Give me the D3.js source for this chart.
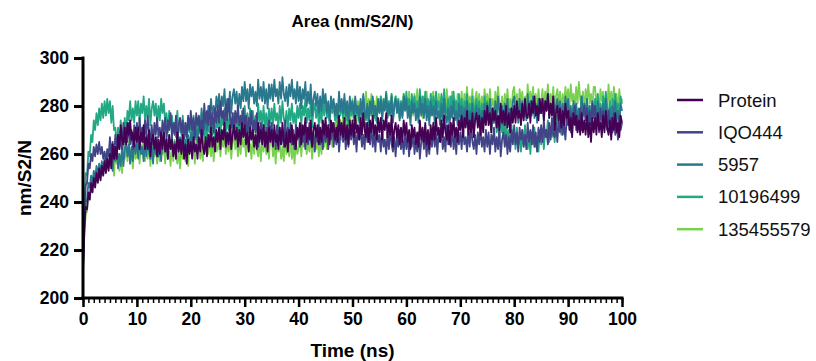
<!DOCTYPE html>
<html>
<head>
<meta charset="utf-8">
<script src="https://cdn.jsdelivr.net/npm/d3@7"></script>
<style>
  body { margin: 0; background: #fff; }
  svg { display: block; font-family: "Liberation Sans", Arial, sans-serif; }
</style>
</head>
<body>
<div id="chart"></div>
<script>
const seriesNames = ['Protein', 'IQO444', '5957', '10196499', '135455579'];
const seriesColors = ['#440154', '#414487', '#2a788e', '#22a884', '#7ad151'];
const timeStep = 0.25; // ns between samples
const yTicks = [200, 220, 240, 260, 280, 300];
const xTicks = [0, 10, 20, 30, 40, 50, 60, 70, 80, 90, 100];

// one row = 5 ns
const protein = [
  210,228,238,237,244,241,248,244,250,246,252,248,254,249,255,251,257,252,258,253,
  260,254,264,258,263,258,268,262,272,266,264,271,264,273,268,274,266,269,263,271,
  265,271,262,269,265,272,262,267,262,270,259,266,268,262,267,259,266,260,269,262,
  269,261,266,258,268,262,266,259,264,258,269,261,266,260,268,258,264,256,266,260,
  265,258,267,261,264,258,267,261,270,263,260,267,259,268,263,271,263,267,261,270,
  265,271,262,270,266,273,263,269,264,272,262,268,272,266,271,263,270,264,273,267,
  272,264,269,261,271,266,270,263,268,262,273,265,270,264,272,263,269,261,271,265,
  270,263,272,265,268,262,271,264,273,266,263,269,261,270,265,272,264,268,262,271,
  267,273,264,272,268,275,265,271,266,274,263,270,273,267,272,264,271,265,274,268,
  275,267,272,264,274,269,273,266,271,265,276,268,273,267,275,266,272,264,274,268,
  274,267,276,269,272,266,275,268,277,270,267,273,265,274,269,276,268,272,266,275,
  269,275,266,274,270,277,267,273,268,276,263,270,273,267,272,264,271,265,274,268,
  273,265,270,262,272,267,271,264,269,263,274,266,271,265,273,264,270,262,272,266,
  273,266,275,268,271,265,274,267,276,269,266,272,264,273,268,275,267,271,265,274,
  270,276,267,275,271,278,268,274,269,277,267,274,277,271,276,268,275,269,278,272,
  280,272,277,269,279,274,278,271,276,270,281,273,278,272,280,271,277,269,279,273,
  280,273,282,275,278,272,281,274,283,276,275,281,273,282,277,284,276,280,274,283,
  277,283,274,282,278,285,275,281,276,284,270,277,280,274,279,271,278,272,281,275,
  278,270,275,267,277,272,276,269,274,268,277,269,274,268,276,267,273,265,275,269,
  275,268,277,270,273,267,276,269,278,271,268,274,266,275,270,277,269,273,267,276,
  273
];

const iqo444 = [
  215,232,247,248,256,254,260,257,263,259,264,260,265,260,263,258,261,257,262,259,
  267,260,265,258,268,264,268,262,267,262,273,265,271,265,273,264,270,262,272,266,
  273,266,275,268,271,265,274,267,276,269,266,272,264,273,268,275,267,271,265,274,
  269,275,266,274,270,277,267,273,268,276,265,272,275,269,274,266,273,267,276,270,
  278,270,275,267,277,272,276,269,274,268,281,273,278,272,280,271,277,269,279,273,
  280,273,282,275,278,272,281,274,283,276,271,277,269,278,273,280,272,276,270,279,
  270,276,267,275,271,278,268,274,269,277,263,270,273,267,272,264,271,265,274,268,
  273,265,270,262,272,267,271,264,269,263,274,266,271,265,273,264,270,262,272,266,
  270,263,272,265,268,262,271,264,273,266,263,269,261,270,265,272,264,268,262,271,
  265,271,262,270,266,273,263,269,264,272,261,268,271,265,270,262,269,263,272,266,
  272,264,269,261,271,266,270,263,268,262,273,265,270,264,272,263,269,261,271,265,
  268,261,270,263,266,260,269,262,271,264,261,267,259,268,263,270,262,266,260,269,
  262,268,259,267,263,270,260,266,261,269,258,265,268,262,267,259,266,260,269,263,
  271,263,268,260,270,265,269,262,267,261,272,264,269,263,271,262,268,260,270,264,
  269,262,271,264,267,261,270,263,272,265,262,268,260,269,264,271,263,267,261,270,
  263,269,260,268,264,271,261,267,262,270,259,266,269,263,268,260,267,261,270,264,
  272,264,269,261,271,266,270,263,268,262,273,265,270,264,272,263,269,261,271,265,
  272,265,274,267,270,264,273,266,275,268,267,273,265,274,269,276,268,272,266,275,
  272,278,269,277,273,280,270,276,271,279,270,277,280,274,279,271,278,272,281,275,
  280,272,277,269,279,274,278,271,276,270,278,270,275,269,277,268,274,266,276,270,
  273
];

const c5957 = [
  212,230,240,241,248,246,251,248,253,250,255,251,256,252,257,253,258,254,259,255,
  256,262,253,261,257,264,254,260,255,263,255,262,265,259,264,256,263,257,266,260,
  265,258,267,260,263,257,266,259,268,261,258,264,256,265,260,267,259,263,257,266,
  269,261,266,258,268,263,267,260,265,259,270,262,267,261,269,260,266,258,268,262,
  269,263,273,266,270,265,275,269,279,273,270,277,270,280,276,283,276,280,275,284,
  279,285,276,284,280,287,277,283,278,286,277,284,287,281,286,278,285,279,288,282,
  290,282,287,279,289,284,288,281,286,280,291,283,288,282,290,281,287,279,289,283,
  289,282,291,284,287,281,290,283,292,285,282,288,280,289,284,291,283,287,281,290,
  282,288,279,287,283,290,280,286,281,289,276,283,286,280,285,277,284,278,287,281,
  285,277,282,274,284,279,283,276,281,275,286,278,283,277,285,276,282,274,284,278,
  282,275,284,277,280,274,283,276,285,278,275,281,273,282,277,284,276,280,274,283,
  277,283,274,282,278,285,275,281,276,284,273,280,283,277,282,274,281,275,284,278,
  283,275,280,272,282,277,281,274,279,273,284,276,281,275,283,274,280,272,282,276,
  280,273,282,275,278,272,281,274,283,276,273,279,271,280,275,282,274,278,272,281,
  274,280,271,279,275,282,272,278,273,281,270,277,280,274,279,271,278,272,281,275,
  281,274,283,276,279,273,282,275,284,277,274,280,272,281,276,283,275,279,273,282,
  284,276,281,273,283,278,282,275,280,274,285,277,282,276,284,275,281,273,283,277,
  277,283,274,282,278,285,275,281,276,284,273,280,283,277,282,274,281,275,284,278,
  283,275,280,272,282,277,281,274,279,273,284,276,281,275,283,274,280,272,282,276,
  280,273,282,275,278,272,281,274,283,276,273,279,271,280,275,282,274,278,272,281,
  278
];

const c10196499 = [
  215,238,252,251,261,259,268,265,274,270,277,272,279,274,281,275,282,276,283,277,
  282,273,280,270,271,263,271,264,274,268,267,275,268,278,274,282,274,279,273,282,
  276,282,273,281,277,284,274,280,275,283,272,279,282,276,281,273,280,274,283,277,
  281,273,277,269,278,273,276,269,273,267,278,269,274,268,276,267,273,265,275,269,
  274,267,276,269,272,266,275,268,277,270,267,273,265,274,269,276,268,272,266,275,
  271,277,268,276,272,279,269,275,270,278,267,274,277,271,276,268,275,269,278,272,
  280,272,277,269,279,274,278,271,276,270,281,273,278,272,280,271,277,269,279,273,
  279,272,281,274,277,271,280,273,282,275,272,278,270,279,274,281,273,277,271,280,
  275,281,272,280,276,283,273,279,274,282,271,278,281,275,280,272,279,273,282,276,
  283,275,280,272,282,277,281,274,279,273,284,276,281,275,283,274,280,272,282,276,
  281,274,283,276,279,273,282,275,284,277,274,280,272,281,276,283,275,279,273,282,
  278,284,275,283,279,286,276,282,277,285,274,281,284,278,283,275,282,276,285,279,
  286,278,283,275,285,280,284,277,282,276,287,279,284,278,286,277,283,275,285,279,
  284,277,286,279,282,276,285,278,287,280,277,283,275,284,279,286,278,282,276,285,
  277,283,274,282,278,285,275,281,276,284,273,280,283,277,282,274,281,275,284,278,
  282,274,278,269,279,273,276,269,273,267,277,269,273,267,274,265,270,262,272,265,
  269,262,271,264,267,261,270,263,272,265,262,268,260,269,264,271,263,267,261,270,
  264,270,262,270,267,274,265,271,267,275,265,272,276,270,276,268,276,270,280,274,
  282,274,279,271,281,276,280,273,278,272,284,276,281,275,283,274,280,272,282,276,
  283,276,285,278,281,275,284,277,286,279,276,282,274,283,278,285,277,281,275,284,
  281
];

const c135455579 = [
  212,226,235,236,243,241,247,244,250,247,252,249,253,250,255,251,256,253,257,254,
  262,254,259,251,261,256,260,253,258,252,266,258,263,257,265,256,262,254,264,258,
  259,265,256,264,260,267,257,263,258,266,255,262,265,259,264,256,263,257,266,260,
  263,256,265,258,261,255,264,257,266,259,256,262,254,263,258,265,257,261,255,264,
  267,259,264,256,266,261,265,258,263,257,269,261,266,260,268,259,265,257,267,261,
  262,268,259,267,263,270,260,266,261,269,258,265,268,262,267,259,266,260,269,263,
  266,259,268,261,264,258,267,260,269,262,259,265,257,266,261,268,260,264,258,267,
  267,259,264,256,266,261,265,258,263,257,268,260,265,259,267,258,264,256,266,260,
  262,268,259,267,263,270,260,266,261,269,258,265,268,262,267,259,266,260,269,263,
  269,262,272,265,269,263,273,267,276,270,267,274,266,276,271,279,271,276,270,280,
  283,275,280,272,282,277,281,274,279,273,286,278,283,277,285,276,282,274,284,278,
  278,284,275,283,279,286,276,282,277,285,274,281,284,278,283,275,282,276,285,279,
  284,277,286,279,282,276,285,278,287,280,277,283,275,284,279,286,278,282,276,285,
  286,278,283,275,285,280,284,277,282,276,287,279,284,278,286,277,283,275,285,279,
  280,286,277,285,281,288,278,284,279,287,276,283,286,280,285,277,284,278,287,281,
  285,278,287,280,283,277,286,279,288,281,278,284,276,285,280,287,279,283,277,286,
  288,280,285,277,287,282,286,279,284,278,289,281,286,280,288,279,285,277,287,281,
  281,287,278,286,282,289,279,285,280,288,277,284,287,281,286,278,285,279,288,282,
  287,280,289,282,285,279,288,281,290,283,280,286,278,287,282,289,281,285,279,288,
  288,280,285,277,287,282,286,279,284,278,289,281,286,280,288,279,285,277,287,281,
  283
];

const seriesValues = [protein, iqo444, c5957, c10196499, c135455579];
seriesValues.forEach((v, i) => { if (v.length !== 401) console.error(seriesNames[i], v.length); });

const width = 816, height = 361;
const margin = { top: 58, right: 194, bottom: 63, left: 83 };
const plotW = width - margin.left - margin.right;
const plotH = height - margin.top - margin.bottom;
const font = '"Liberation Sans", Arial, sans-serif';

const svg = d3.select('#chart')
  .append('svg')
  .attr('width', width)
  .attr('height', height);

const g = svg.append('g')
  .attr('transform', `translate(${margin.left},${margin.top})`);

const x = d3.scaleLinear().domain([0, 100]).range([0, plotW]);
const y = d3.scaleLinear().domain([200, 300]).range([plotH, 0]);

// Title
svg.append('text')
  .attr('x', margin.left + plotW / 2)
  .attr('y', 27)
  .attr('text-anchor', 'middle')
  .style('font-size', '17px')
  .style('font-weight', 'bold')
  .text('Area (nm/S2/N)');

// Series lines, last one at the back
const line = d3.line()
  .x((d, i) => x(i * timeStep))
  .y(d => y(d));

seriesValues.map((v, i) => i).reverse().forEach(i => {
  g.append('path')
    .datum(seriesValues[i])
    .attr('fill', 'none')
    .attr('stroke', seriesColors[i])
    .attr('stroke-width', 1.8)
    .attr('stroke-linejoin', 'round')
    .attr('d', line);
});

// X axis: minor ticks every 1 ns, major every 10
const xAxisG = g.append('g').attr('transform', `translate(0,${plotH})`);
xAxisG.call(d3.axisBottom(x).tickValues(d3.range(0, 101, 1)).tickSize(5).tickFormat(''))
  .call(s => s.select('.domain').remove())
  .call(s => s.selectAll('.tick line').attr('stroke', '#000').attr('stroke-width', 1.5));
xAxisG.append('g')
  .call(d3.axisBottom(x).tickValues(xTicks).tickSize(9).tickPadding(6).tickSizeOuter(0))
  .call(s => s.select('.domain').remove())
  .call(s => s.selectAll('.tick line').attr('stroke', '#000').attr('stroke-width', 2.5))
  .call(s => s.selectAll('.tick text')
    .attr('fill', '#000')
    .style('font-family', font)
    .style('font-size', '17.5px')
    .style('font-weight', 'bold'));
xAxisG.append('line')
  .attr('x1', -1.5).attr('x2', plotW + 1.5)
  .attr('y1', 0).attr('y2', 0)
  .attr('stroke', '#000').attr('stroke-width', 3);

// Y axis
const yAxisG = g.append('g');
yAxisG.call(d3.axisLeft(y).tickValues(yTicks).tickSize(9).tickPadding(5).tickSizeOuter(0))
  .call(s => s.select('.domain').remove())
  .call(s => s.selectAll('.tick line').attr('stroke', '#000').attr('stroke-width', 3))
  .call(s => s.selectAll('.tick text')
    .attr('fill', '#000')
    .style('font-family', font)
    .style('font-size', '17.5px')
    .style('font-weight', 'bold'));
yAxisG.append('line')
  .attr('x1', 0).attr('x2', 0)
  .attr('y1', -1.5).attr('y2', plotH + 1.5)
  .attr('stroke', '#000').attr('stroke-width', 3);

// Axis labels
svg.append('text')
  .attr('x', margin.left + plotW / 2)
  .attr('y', 357)
  .attr('text-anchor', 'middle')
  .style('font-size', '19px')
  .style('font-weight', 'bold')
  .text('Time (ns)');

svg.append('text')
  .attr('transform', `translate(31,${margin.top + plotH / 2}) rotate(-90)`)
  .attr('text-anchor', 'middle')
  .style('font-size', '19px')
  .style('font-weight', 'bold')
  .text('nm/S2/N');

// Legend
const legend = svg.append('g').attr('transform', 'translate(677,100)');
seriesNames.forEach((name, i) => {
  const row = legend.append('g').attr('transform', `translate(0,${i * 32.3})`);
  row.append('line')
    .attr('x1', 0).attr('x2', 26)
    .attr('stroke', seriesColors[i])
    .attr('stroke-width', 2.5);
  row.append('text')
    .attr('x', 41)
    .attr('y', 6.5)
    .style('font-size', '18.5px')
    .attr('fill', '#111')
    .text(name);
});
</script>
</body>
</html>
